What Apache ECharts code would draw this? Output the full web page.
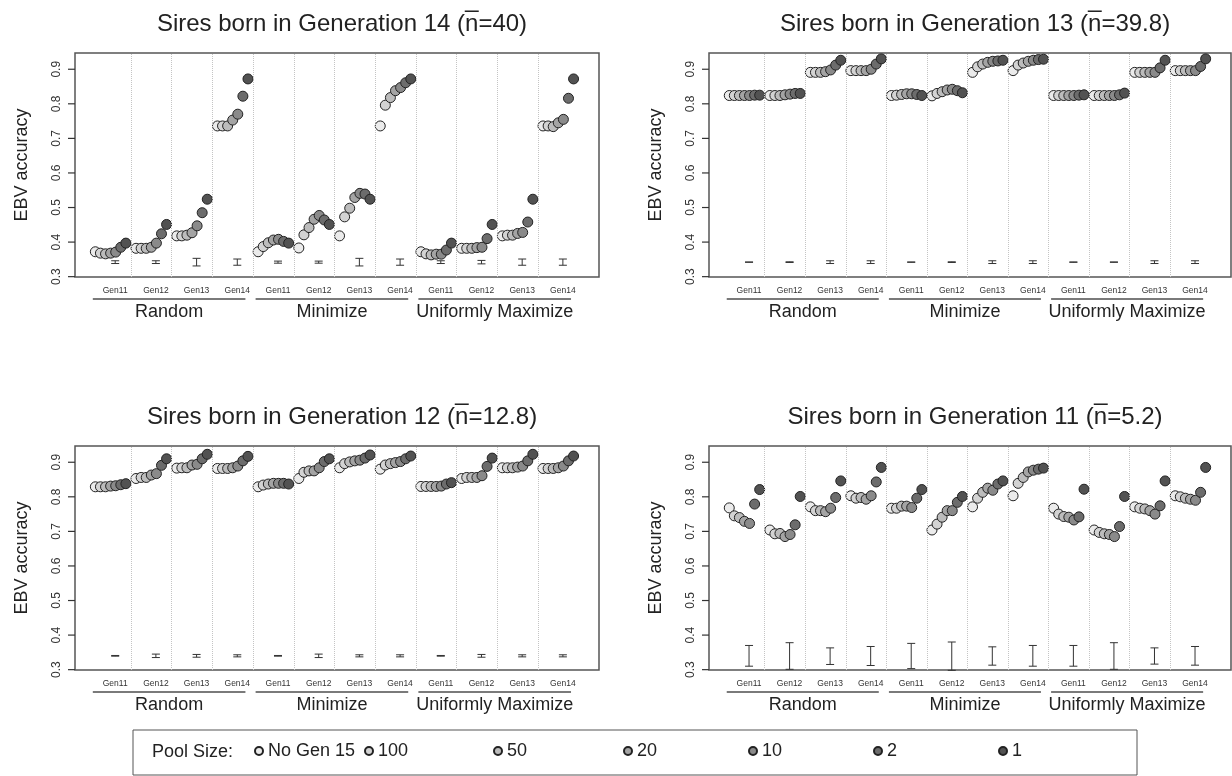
<!DOCTYPE html>
<html>
<head>
<meta charset="utf-8">
<script src="https://cdn.jsdelivr.net/npm/echarts@6/dist/echarts.min.js"></script>
<style>
  html, body { margin: 0; padding: 0; background: #fff; }
  #chart { width: 1232px; height: 776px; }
</style>
</head>
<body>
<div id="chart"></div>
<script>
const strategies = ['Random', 'Minimize', 'Uniformly Maximize'];
const gens = ['Gen11', 'Gen12', 'Gen13', 'Gen14'];
const poolSizes = ['No Gen 15', '100', '50', '20', '10', '2', '1'];
const yTicks = [0.3, 0.4, 0.5, 0.6, 0.7, 0.8, 0.9];

const titles = [
  'Sires born in Generation 14 (n\u0305=40)',
  'Sires born in Generation 13 (n\u0305=39.8)',
  'Sires born in Generation 12 (n\u0305=12.8)',
  'Sires born in Generation 11 (n\u0305=5.2)'
];

// EBV accuracy, one row per strategy x generation (Random 11-14, Minimize 11-14, Unif. Max 11-14),
// seven values per row in pool size order
const accGen14 = [
  [0.372, 0.368, 0.366, 0.368, 0.371, 0.385, 0.397],
  [0.382, 0.382, 0.382, 0.385, 0.397, 0.424, 0.451],
  [0.418, 0.418, 0.420, 0.427, 0.447, 0.485, 0.524],
  [0.736, 0.736, 0.736, 0.753, 0.770, 0.822, 0.872],
  [0.372, 0.387, 0.398, 0.406, 0.408, 0.402, 0.397],
  [0.383, 0.421, 0.442, 0.466, 0.477, 0.464, 0.451],
  [0.418, 0.473, 0.498, 0.529, 0.541, 0.539, 0.524],
  [0.736, 0.796, 0.818, 0.838, 0.847, 0.861, 0.872],
  [0.372, 0.366, 0.363, 0.365, 0.365, 0.377, 0.397],
  [0.382, 0.382, 0.382, 0.384, 0.385, 0.410, 0.451],
  [0.418, 0.420, 0.420, 0.425, 0.428, 0.458, 0.524],
  [0.736, 0.736, 0.734, 0.745, 0.755, 0.816, 0.872]
];
const accGen13 = [
  [0.824, 0.824, 0.824, 0.824, 0.824, 0.825, 0.825],
  [0.824, 0.824, 0.824, 0.826, 0.828, 0.830, 0.830],
  [0.891, 0.891, 0.891, 0.893, 0.898, 0.912, 0.926],
  [0.896, 0.896, 0.896, 0.896, 0.900, 0.915, 0.930],
  [0.824, 0.825, 0.827, 0.829, 0.829, 0.827, 0.824],
  [0.823, 0.830, 0.835, 0.840, 0.842, 0.838, 0.832],
  [0.891, 0.907, 0.915, 0.920, 0.923, 0.924, 0.926],
  [0.896, 0.912, 0.918, 0.923, 0.926, 0.928, 0.929],
  [0.824, 0.824, 0.824, 0.824, 0.824, 0.825, 0.826],
  [0.824, 0.824, 0.824, 0.824, 0.824, 0.826, 0.831],
  [0.891, 0.891, 0.891, 0.891, 0.891, 0.904, 0.926],
  [0.896, 0.896, 0.896, 0.896, 0.896, 0.908, 0.930]
];
const accGen12 = [
  [0.829, 0.829, 0.829, 0.831, 0.832, 0.835, 0.838],
  [0.853, 0.856, 0.856, 0.863, 0.867, 0.891, 0.910],
  [0.883, 0.884, 0.884, 0.892, 0.894, 0.910, 0.923],
  [0.882, 0.882, 0.882, 0.884, 0.889, 0.904, 0.917],
  [0.829, 0.834, 0.837, 0.839, 0.839, 0.839, 0.837],
  [0.853, 0.871, 0.875, 0.875, 0.884, 0.902, 0.910],
  [0.884, 0.896, 0.901, 0.904, 0.906, 0.912, 0.921],
  [0.880, 0.892, 0.896, 0.899, 0.902, 0.910, 0.918],
  [0.830, 0.830, 0.830, 0.830, 0.831, 0.837, 0.841],
  [0.853, 0.856, 0.856, 0.856, 0.861, 0.888, 0.912],
  [0.884, 0.884, 0.884, 0.886, 0.889, 0.904, 0.923],
  [0.882, 0.882, 0.882, 0.884, 0.889, 0.904, 0.918]
];
const accGen11 = [
  [0.768, 0.745, 0.740, 0.729, 0.723, 0.779, 0.821],
  [0.704, 0.693, 0.694, 0.685, 0.691, 0.719, 0.801],
  [0.771, 0.760, 0.760, 0.757, 0.767, 0.798, 0.846],
  [0.803, 0.796, 0.798, 0.793, 0.803, 0.843, 0.885],
  [0.767, 0.767, 0.773, 0.773, 0.769, 0.796, 0.821],
  [0.704, 0.721, 0.741, 0.760, 0.760, 0.784, 0.801],
  [0.771, 0.796, 0.813, 0.825, 0.819, 0.837, 0.846],
  [0.803, 0.839, 0.856, 0.872, 0.877, 0.880, 0.883],
  [0.767, 0.750, 0.743, 0.741, 0.733, 0.742, 0.822],
  [0.704, 0.697, 0.693, 0.691, 0.685, 0.714, 0.801],
  [0.771, 0.767, 0.765, 0.760, 0.750, 0.774, 0.846],
  [0.803, 0.800, 0.796, 0.793, 0.790, 0.813, 0.885]
];

// error bars [low, high], one per group
const errGen14 = [
  [0.338, 0.346], [0.338, 0.346], [0.331, 0.353], [0.333, 0.351],
  [0.339, 0.345], [0.339, 0.345], [0.331, 0.353], [0.333, 0.351],
  [0.338, 0.346], [0.337, 0.347], [0.333, 0.351], [0.333, 0.351]
];
const errGen13 = [
  [0.3415, 0.3425], [0.341, 0.343], [0.338, 0.346], [0.338, 0.346],
  [0.3415, 0.3425], [0.341, 0.343], [0.338, 0.346], [0.338, 0.346],
  [0.3415, 0.3425], [0.3415, 0.3425], [0.338, 0.346], [0.338, 0.346]
];
const errGen12 = [
  [0.339, 0.341], [0.335, 0.345], [0.336, 0.344], [0.337, 0.343],
  [0.339, 0.341], [0.335, 0.345], [0.337, 0.343], [0.337, 0.343],
  [0.339, 0.341], [0.336, 0.344], [0.337, 0.343], [0.337, 0.343]
];
const errGen11 = [
  [0.310, 0.370], [0.301, 0.378], [0.315, 0.363], [0.312, 0.367],
  [0.303, 0.376], [0.298, 0.380], [0.313, 0.366], [0.310, 0.370],
  [0.310, 0.370], [0.301, 0.378], [0.316, 0.363], [0.313, 0.367]
];

const panels = [
  { acc: accGen14, err: errGen14 },
  { acc: accGen13, err: errGen13 },
  { acc: accGen12, err: errGen12 },
  { acc: accGen11, err: errGen11 }
];

const poolColors = ['#ebebeb', '#d3d3d3', '#bcbcbc', '#a4a4a4', '#8a8a8a', '#6c6c6c', '#525252'];
const gridBoxes = [
  { left: 75, top: 53, width: 524, height: 224 },
  { left: 709, top: 53, width: 522, height: 224 },
  { left: 75, top: 446, width: 524, height: 224 },
  { left: 709, top: 446, width: 522, height: 224 }
];
const groupW = 8;      // 7 pools + 1 gap
const barOff = 3.9;
const genPos = gens.concat(gens, gens).map((g, i) => i * groupW + barOff);
const dividers = [];
for (let g = 0; g < 11; g++) dividers.push(g * groupW + 7);

const chart = echarts.init(document.getElementById('chart'));

const series = [];
panels.forEach((p, pi) => {
  // y ticks (outward, R style) placed through the y scale
  series.push({
    type: 'custom',
    xAxisIndex: pi, yAxisIndex: pi,
    silent: true,
    clip: false,
    z: 5,
    data: yTicks.map(v => [-4, v]),
    encode: { x: 0, y: 1 },
    renderItem: (params, api) => {
      const pt = api.coord([api.value(0), api.value(1)]);
      const x0 = params.coordSys.x;
      return { type: 'line', shape: { x1: x0 - 7, y1: pt[1], x2: x0, y2: pt[1] },
               style: { stroke: '#333', lineWidth: 1.2 } };
    }
  });
  series.push({
    type: 'custom',
    xAxisIndex: pi, yAxisIndex: pi,
    silent: true,
    clip: false,
    data: p.err.map((e, g) => [g * groupW + barOff, e[0], e[1]]),
    encode: { x: 0, y: [1, 2] },
    renderItem: (params, api) => {
      const lo = api.coord([api.value(0), api.value(1)]);
      const hi = api.coord([api.value(0), api.value(2)]);
      const w = 4;
      const st = { stroke: '#333', lineWidth: 1 };
      return {
        type: 'group',
        children: [
          { type: 'line', shape: { x1: lo[0], y1: lo[1], x2: hi[0], y2: hi[1] }, style: st },
          { type: 'line', shape: { x1: lo[0] - w, y1: lo[1], x2: lo[0] + w, y2: lo[1] }, style: st },
          { type: 'line', shape: { x1: hi[0] - w, y1: hi[1], x2: hi[0] + w, y2: hi[1] }, style: st }
        ]
      };
    }
  });
  poolSizes.forEach((name, j) => {
    const s = {
      name: name,
      type: 'scatter',
      xAxisIndex: pi, yAxisIndex: pi,
      symbol: 'circle',
      symbolSize: 10,
      itemStyle: { color: poolColors[j], borderColor: '#222', borderWidth: 1, opacity: 1 },
      data: p.acc.map((row, g) => [g * groupW + j, row[j]])
    };
    if (j === 0) {
      s.markLine = {
        silent: true,
        symbol: ['none', 'none'],
        label: { show: false },
        lineStyle: { color: '#c4c4c4', type: 'dotted', width: 1 },
        data: dividers.map(x => ({ xAxis: x }))
      };
    }
    series.push(s);
  });
  series.push({
    type: 'custom',
    xAxisIndex: pi, yAxisIndex: pi,
    silent: true,
    clip: false,
    data: strategies.map((s, i) => [i * 32 - 0.5, i * 32 + 29.5, i]),
    encode: { x: [0, 1] },
    renderItem: (params, api) => {
      const cs = params.coordSys;
      const bottom = cs.y + cs.height;
      const a = api.coord([api.value(0), 0.5]);
      const b = api.coord([api.value(1), 0.5]);
      return {
        type: 'group',
        children: [
          { type: 'line', shape: { x1: a[0], y1: bottom + 22, x2: b[0], y2: bottom + 22 },
            style: { stroke: '#7a7a7a', lineWidth: 2 } },
          { type: 'text', x: (a[0] + b[0]) / 2, y: bottom + 35,
            style: { text: strategies[api.value(2)], fontSize: 18, fill: '#222',
                     align: 'center', verticalAlign: 'middle', fontFamily: 'Liberation Sans' } }
        ]
      };
    }
  });
});

const option = {
  animation: false,
  backgroundColor: '#fff',
  textStyle: { fontFamily: 'Liberation Sans' },
  title: titles.map((t, i) => ({
    text: t,
    left: gridBoxes[i].left + gridBoxes[i].width / 2,
    top: gridBoxes[i].top - 46,
    textAlign: 'center',
    textStyle: { fontSize: 24, fontWeight: 'normal', color: '#222' }
  })),
  grid: gridBoxes.map(b => Object.assign({ show: true, borderColor: '#555', borderWidth: 1.5 }, b)),
  xAxis: gridBoxes.map((b, i) => ({
    type: 'value', gridIndex: i, min: -4, max: 99,
    axisLine: { show: false, onZero: false }, axisTick: { show: false }, splitLine: { show: false },
    axisLabel: {
      customValues: genPos, margin: 9, fontSize: 8.5, color: '#333',
      formatter: v => gens[Math.round((v - barOff) / groupW) % 4]
    }
  })),
  yAxis: gridBoxes.map((b, i) => ({
    type: 'value', gridIndex: i, min: 0.299, max: 0.947,
    name: 'EBV accuracy', nameLocation: 'middle', nameGap: 44, nameRotate: 90,
    nameTextStyle: { fontSize: 18, color: '#222' },
    axisLine: { show: false, onZero: false },
    axisTick: { show: false },
    splitLine: { show: false },
    axisLabel: {
      customValues: yTicks, rotate: 90, margin: 12, fontSize: 12, color: '#333',
      formatter: v => v.toFixed(1)
    }
  })),
  legend: poolSizes.map((name, j) => ({
    data: [name],
    left: [254, 364, 493, 623, 748, 873, 998][j],
    top: 742,
    padding: 0,
    icon: 'circle',
    itemWidth: 8, itemHeight: 8,
    selectedMode: false,
    textStyle: { fontSize: 18, color: '#222' }
  })),
  graphic: [
    { type: 'rect', shape: { x: 133, y: 730, width: 1004, height: 45 },
      style: { fill: 'none', stroke: '#555', lineWidth: 1 } },
    { type: 'text', x: 152, y: 752,
      style: { text: 'Pool Size:', fontSize: 18, fill: '#222', verticalAlign: 'middle',
               fontFamily: 'Liberation Sans' } }
  ],
  series: series
};
chart.setOption(option);
</script>
</body>
</html>
